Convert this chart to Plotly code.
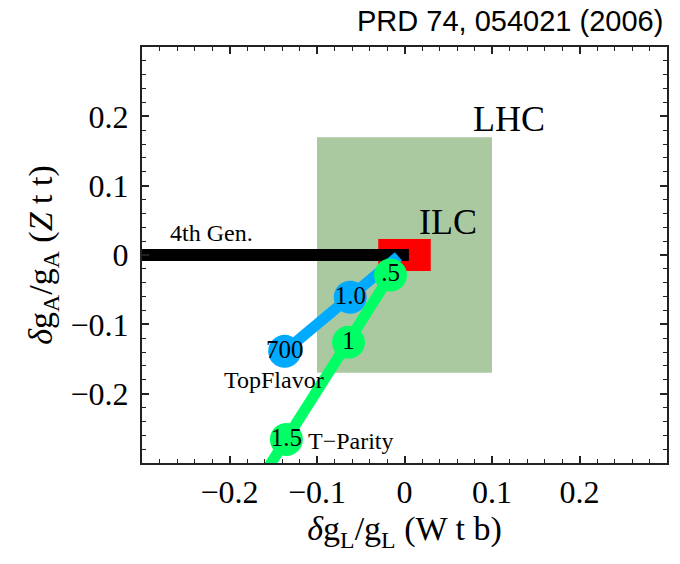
import plotly.graph_objects as go

# ---- data ----
x_ticks = [-0.2, -0.1, 0, 0.1, 0.2]
y_ticks = [-0.2, -0.1, 0, 0.1, 0.2]

fourth_gen_x = [-0.32, 0.005]
fourth_gen_y = [0.0, 0.0]

topflavor_x = [-0.007, -0.062, -0.137]
topflavor_y = [-0.002, -0.061, -0.139]
topflavor_labels = ["", "1.0", "700"]

tparity_x = [-0.016, -0.064, -0.135, -0.165]
tparity_y = [-0.029, -0.126, -0.266, -0.325]
tparity_labels = [".5", "1", "1.5", ""]

lhc_x = [-0.1, 0.1]
lhc_y = [-0.17, 0.17]
ilc_x = [-0.03, 0.03]
ilc_y = [-0.023, 0.023]

# ---- styles ----
SERIF = "Liberation Serif, Times New Roman, serif"
BLUE = "#00AAFF"
GREEN = "#00FF64"
LHC_COLOR = "#ABC9A1"

fig = go.Figure()

fig.add_shape(type="rect", xref="x", yref="y",
              x0=lhc_x[0], x1=lhc_x[1], y0=lhc_y[0], y1=lhc_y[1],
              fillcolor=LHC_COLOR, line=dict(width=0), layer="below")
fig.add_shape(type="rect", xref="x", yref="y",
              x0=ilc_x[0], x1=ilc_x[1], y0=ilc_y[0], y1=ilc_y[1],
              fillcolor="#FF0000", line=dict(width=0), layer="below")

fig.add_trace(go.Scatter(x=fourth_gen_x, y=fourth_gen_y, mode="lines",
                         line=dict(color="black", width=12),
                         hoverinfo="skip", showlegend=False))

fig.add_trace(go.Scatter(x=topflavor_x, y=topflavor_y, mode="lines",
                         line=dict(color=BLUE, width=11),
                         showlegend=False))
fig.add_trace(go.Scatter(x=topflavor_x[1:], y=topflavor_y[1:], mode="markers+text",
                         marker=dict(color=BLUE, size=33),
                         text=topflavor_labels[1:], textposition="middle center",
                         textfont=dict(family=SERIF, size=25, color="black"),
                         showlegend=False))

fig.add_trace(go.Scatter(x=tparity_x, y=tparity_y, mode="lines",
                         line=dict(color=GREEN, width=11),
                         showlegend=False))
fig.add_trace(go.Scatter(x=tparity_x[:3], y=tparity_y[:3], mode="markers+text",
                         marker=dict(color=GREEN, size=33),
                         text=tparity_labels[:3], textposition="middle center",
                         textfont=dict(family=SERIF, size=25, color="black"),
                         showlegend=False))

def ann(text, x, y, size):
    fig.add_annotation(text=text, x=x, y=y, xref="x", yref="y", showarrow=False,
                       font=dict(family=SERIF, size=size, color="black"),
                       xanchor="center", yanchor="middle")

ann("LHC", 0.119, 0.196, 36)
ann("ILC", 0.050, 0.048, 36)
ann("4th Gen.", -0.221, 0.032, 24)
ann("TopFlavor", -0.149, -0.180, 24)
ann("T\u2212Parity", -0.061, -0.268, 24)

fig.add_annotation(text="PRD 74, 054021 (2006)", xref="paper", yref="paper",
                   x=0.996, y=1.062, xanchor="right", yanchor="middle", showarrow=False,
                   font=dict(family="Liberation Sans, Arial, sans-serif", size=29, color="black"))

axis_common = dict(
    range=[-0.3, 0.3], showgrid=False, zeroline=False,
    showline=True, linecolor="#222222", linewidth=2, mirror="allticks",
    ticks="inside", ticklen=7, tickwidth=1.5, tickcolor="#222222",
    tickfont=dict(family=SERIF, size=32, color="black"),
    minor=dict(ticks="inside", tick0=0, dtick=0.02, ticklen=4, tickwidth=1.2,
               tickcolor="#222222", showgrid=False),
)

fig.update_layout(
    width=680, height=564,
    margin=dict(l=142, r=13, t=47, b=101),
    paper_bgcolor="white", plot_bgcolor="white",
    xaxis=dict(axis_common, tickvals=x_ticks,
               title=dict(text="<i>\u03b4</i>g<sub>L</sub>/g<sub>L</sub> (W t b)",
                          font=dict(family=SERIF, size=34, color="black"), standoff=6)),
    yaxis=dict(axis_common, tickvals=y_ticks, ticklabelstandoff=5,
               title=dict(text="<i>\u03b4</i>g<sub>A</sub>/g<sub>A</sub> (<i>Z</i> t t)",
                          font=dict(family=SERIF, size=34, color="black"), standoff=8)),
)

fig.write_html("out.html")
